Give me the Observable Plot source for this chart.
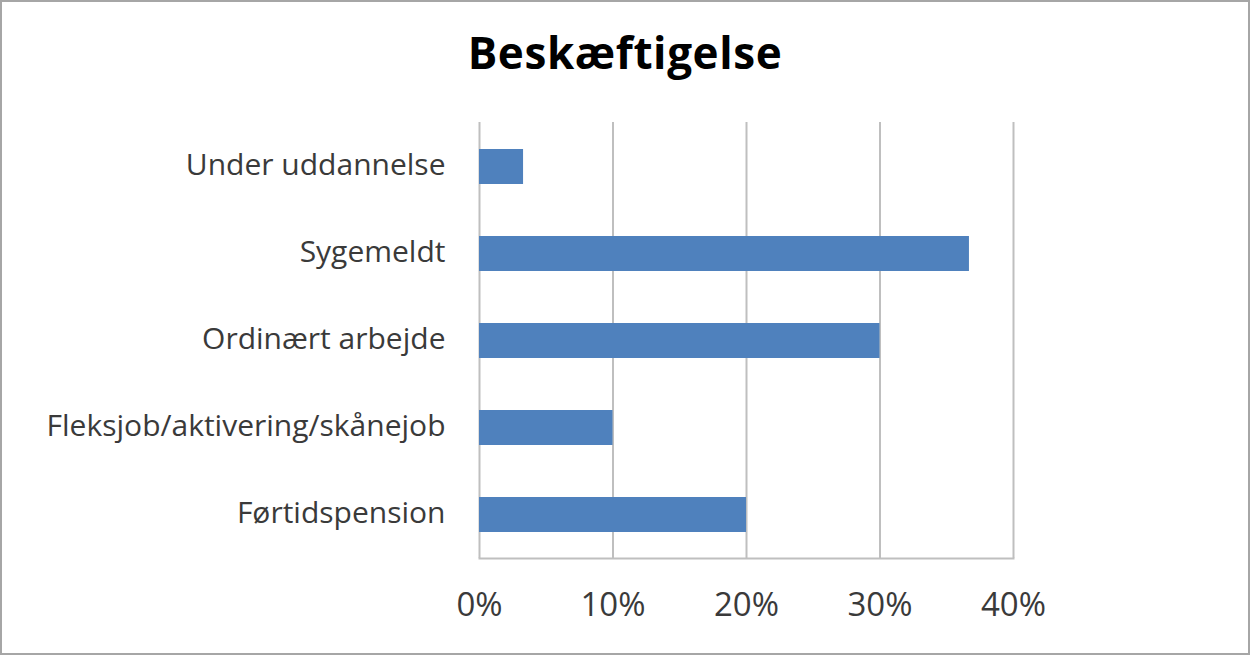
<!DOCTYPE html>
<html>
<head>
<meta charset="utf-8">
<script src="https://cdn.jsdelivr.net/npm/d3@7"></script>
<script src="https://cdn.jsdelivr.net/npm/@observablehq/plot@0.6"></script>
<style>
  html, body { margin: 0; padding: 0; background: #fff; }
  #frame {
    position: relative;
    width: 1250px; height: 655px;
    box-sizing: border-box;
    border: 2px solid #a6a6a6;
    background: #fff;
    overflow: hidden;
  }
  #title {
    height: 98px;
    box-sizing: border-box;
    padding-top: 28px;
    padding-left: 0px;
    text-align: center;
    font-family: "Open Sans", Lato, sans-serif;
    font-weight: bold;
    font-size: 44px;
    letter-spacing: 0.6px;
    line-height: 44px;
    color: #000;
  }
  #chart svg { display: block; }
</style>
</head>
<body>
<div id="frame">
  <div id="title">Beskæftigelse</div>
  <div id="chart"></div>
</div>
<script>
const categories = ["Under uddannelse", "Sygemeldt", "Ordinært arbejde", "Fleksjob/aktivering/skånejob", "Førtidspension"];
const values = [0.033, 0.367, 0.30, 0.10, 0.20];
const xTicks = [0, 0.1, 0.2, 0.3, 0.4];

const data = categories.map((c, i) => ({category: c, value: values[i]}));

const plot = Plot.plot({
  width: 1246,
  height: 553,
  marginLeft: 477,
  marginRight: 235,
  marginTop: 22,
  marginBottom: 95,
  style: {fontFamily: "'Open Sans', Lato, sans-serif", fontSize: "30px", color: "#3a3a3a", background: "#fff"},
  x: {domain: [0, 0.4], ticks: xTicks, tickFormat: d3.format(".0%"), label: null},
  y: {domain: categories, paddingInner: 0.6, paddingOuter: 0.3, label: null},
  marks: [
    Plot.gridX(xTicks, {stroke: "#bfbfbf", strokeWidth: 2, strokeOpacity: 1}),
    Plot.barX(data, {x: "value", y: "category", fill: "#4f81bd"}),
    Plot.axisX({ticks: xTicks, tickFormat: d3.format(".0%"), tickSize: 0, tickPadding: 34, fontSize: 33, fill: "#3a3a3a", label: null}),
    Plot.axisY({tickSize: 0, tickPadding: 34, fontSize: 30, fill: "#3a3a3a", label: null, dy: -2}),
    Plot.frame({anchor: "bottom", stroke: "#bfbfbf", strokeWidth: 2, strokeOpacity: 1})
  ]
});
document.getElementById("chart").appendChild(plot);
</script>
</body>
</html>
